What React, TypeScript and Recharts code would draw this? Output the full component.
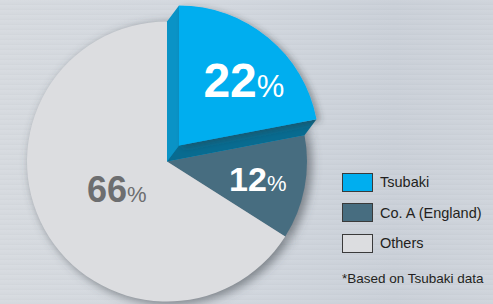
import React from 'react'
import { PieChart, Pie, Cell, Legend, Sector } from 'recharts'

const names = ['Tsubaki', 'Co. A (England)', 'Others']
const shares = [22, 12, 66]
const colors = ['#00aeef', '#476d80', '#dcdde0']
const labelColors = ['#ffffff', '#ffffff', '#6d6e70']
const footnote = '*Based on Tsubaki data'

const data = names.map((name, i) => ({ name, value: shares[i] }))

const FONT = '"Liberation Sans", Arial, Helvetica, sans-serif'
const RAD = Math.PI / 180

// the raised Tsubaki slice is pulled up and to the right
const LIFT = { dx: 12, dy: -16 }
const labelRadius = [0.66, 0.66, 0.41]
const labelTurn = [-5, 0, 0]
const numSize = [48, 34, 36]
const pctSize = [31, 22, 22]

const pt = (cx: number, cy: number, r: number, a: number) => ({
  x: cx + Math.cos(-a * RAD) * r,
  y: cy + Math.sin(-a * RAD) * r,
})

function SliceLabel(props: any) {
  const { cx, cy, outerRadius, startAngle, endAngle, midAngle, index, value } = props
  let ox = cx
  let oy = cy
  let raised = null
  if (index === 0) {
    ox = cx + LIFT.dx
    oy = cy + LIFT.dy
    const s0 = pt(cx, cy, outerRadius, startAngle)
    const e0 = pt(cx, cy, outerRadius, endAngle)
    const s1 = pt(ox, oy, outerRadius, startAngle)
    const e1 = pt(ox, oy, outerRadius, endAngle)
    raised = (
      <g>
        <path d={`M${cx},${cy} L${s0.x},${s0.y} L${s1.x},${s1.y} L${ox},${oy} Z`} fill="#0a93c6" />
        <path d={`M${cx},${cy} L${ox},${oy} L${e1.x},${e1.y} L${e0.x},${e0.y} Z`} fill="#086b90" />
        <Sector
          cx={ox}
          cy={oy}
          innerRadius={0}
          outerRadius={outerRadius}
          startAngle={startAngle}
          endAngle={endAngle}
          fill={colors[0]}
          filter="url(#sliceShadow)"
        />
      </g>
    )
  }
  const p = pt(ox, oy, outerRadius * labelRadius[index], midAngle + labelTurn[index])
  return (
    <g>
      {raised}
      <text
        x={p.x}
        y={p.y + numSize[index] * 0.36}
        textAnchor="middle"
        fill={labelColors[index]}
        fontFamily={FONT}
      >
        <tspan fontSize={numSize[index]} fontWeight="bold">
          {value}
        </tspan>
        <tspan fontSize={pctSize[index]}>%</tspan>
      </text>
    </g>
  )
}

function LegendBox() {
  return (
    <div style={{ fontFamily: FONT, color: '#231f20' }}>
      {names.map((name, i) => (
        <div key={name} style={{ display: 'flex', alignItems: 'center', height: 30.5 }}>
          <div
            style={{
              width: 29,
              height: 17,
              background: colors[i],
              border: '1px solid #3a3a3a',
              marginRight: 7,
            }}
          />
          <span style={{ fontSize: 14.5 }}>{name}</span>
        </div>
      ))}
      <div style={{ fontSize: 13.5, marginTop: 12, whiteSpace: 'nowrap' }}>{footnote}</div>
    </div>
  )
}

export default function App() {
  return (
    <div
      style={{
        position: 'absolute',
        left: 0,
        top: 0,
        width: 493,
        height: 304,
        background:
          'repeating-linear-gradient(180deg, rgba(255,255,255,0.06) 0px, rgba(255,255,255,0) 3px, rgba(0,0,0,0.02) 5px), linear-gradient(90deg, #d6dadf 0%, #d2d7de 45%, #cad0d8 80%, #cfd4db 100%)',
      }}
    >
      <PieChart width={493} height={304} margin={{ top: 0, right: 0, bottom: 0, left: 0 }}>
        <defs>
          <filter id="pieShadow" x="-30%" y="-30%" width="160%" height="160%">
            <feGaussianBlur stdDeviation="5" />
          </filter>
          <filter id="sliceShadow" x="-30%" y="-30%" width="160%" height="160%">
            <feDropShadow dx="4" dy="2" stdDeviation="3" floodColor="#30343a" floodOpacity="0.4" />
          </filter>
        </defs>
        {/* soft shadow behind the disc */}
        <Pie
          data={data}
          dataKey="value"
          nameKey="name"
          cx={171}
          cy={164}
          outerRadius={141}
          startAngle={90}
          endAngle={-270}
          stroke="none"
          legendType="none"
          isAnimationActive={false}
        >
          {data.map((_, i) => (
            <Cell key={`shadow-${i}`} fill="#4a4f57" fillOpacity={0.6} filter="url(#pieShadow)" />
          ))}
        </Pie>
        <Pie
          data={data}
          dataKey="value"
          nameKey="name"
          cx={167}
          cy={161.5}
          outerRadius={140}
          startAngle={90}
          endAngle={-270}
          stroke="none"
          label={SliceLabel}
          labelLine={false}
          isAnimationActive={false}
        >
          {data.map((_, i) => (
            <Cell key={`cell-${i}`} fill={colors[i]} />
          ))}
        </Pie>
        <Legend
          content={<LegendBox />}
          wrapperStyle={{ position: 'absolute', left: 342, top: 167, width: 151 }}
        />
      </PieChart>
    </div>
  )
}
